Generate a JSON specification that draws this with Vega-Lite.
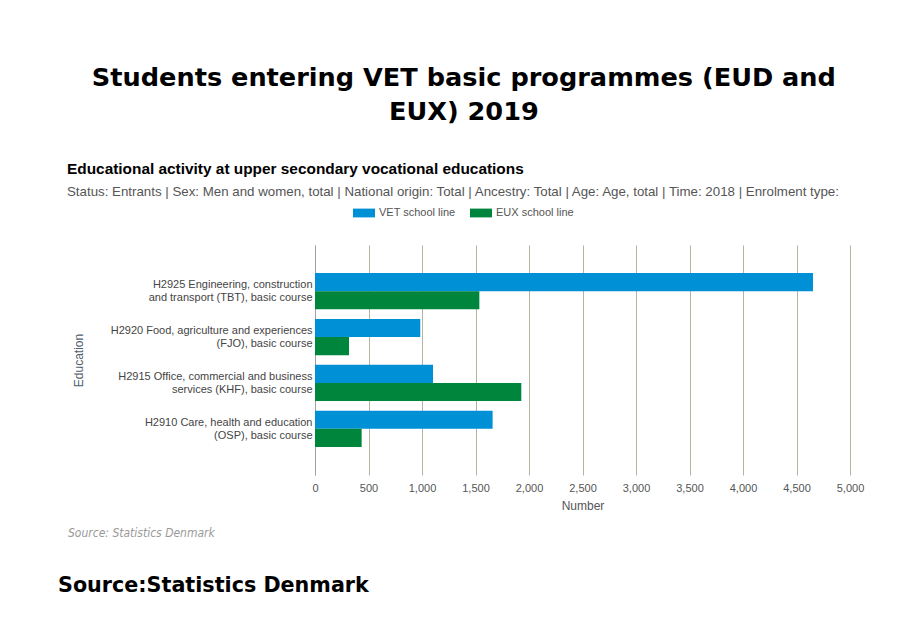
{
  "$schema": "https://vega.github.io/schema/vega-lite/v6.json",
  "background": "white",
  "padding": {"left": 58, "top": 65, "right": 20, "bottom": 20},
  "config": {
    "view": {"stroke": null},
    "concat": {"spacing": 0}
  },
  "title": {
    "text": ["Students entering VET basic programmes (EUD and", "EUX) 2019"],
    "font": "DejaVu Sans",
    "fontSize": 25.6,
    "fontWeight": "bold",
    "color": "#000000",
    "anchor": "middle",
    "lineHeight": 34,
    "offset": 37,
    "dx": 3
  },
  "vconcat": [
    {
      "title": {
        "text": "Source:Statistics Denmark",
        "orient": "bottom",
        "anchor": "start",
        "frame": "bounds",
        "font": "DejaVu Sans",
        "fontSize": 20.7,
        "fontWeight": "bold",
        "color": "#000000",
        "offset": 37,
        "dx": -9
      },
      "vconcat": [
        {
          "title": {
            "text": "Source: Statistics Denmark",
            "orient": "bottom",
            "anchor": "start",
            "frame": "bounds",
            "font": "DejaVu Sans Condensed",
            "fontSize": 12,
            "fontStyle": "italic",
            "fontWeight": "normal",
            "color": "#999999",
            "offset": 17,
            "dx": 1
          },
          "vconcat": [
            {
              "width": 535,
              "height": 230,
              "title": {
                "text": "Educational activity at upper secondary vocational educations",
                "anchor": "start",
                "frame": "bounds",
                "font": "Liberation Sans",
                "fontSize": 15.4,
                "fontWeight": "bold",
                "color": "#000000",
                "offset": 47,
                "dx": -5,
                "subtitle": "Status: Entrants | Sex: Men and women, total | National origin: Total | Ancestry: Total | Age: Age, total | Time: 2018 | Enrolment type:",
                "subtitleFont": "Liberation Sans",
                "subtitleFontSize": 13.3,
                "subtitleColor": "#555555",
                "subtitlePadding": 7
              },
              "data": {
                "values": [
                  {"education": "H2925 Engineering, construction and transport (TBT), basic course", "line": "VET school line", "number": 4654},
                  {"education": "H2925 Engineering, construction and transport (TBT), basic course", "line": "EUX school line", "number": 1536},
                  {"education": "H2920 Food, agriculture and experiences (FJO), basic course", "line": "VET school line", "number": 984},
                  {"education": "H2920 Food, agriculture and experiences (FJO), basic course", "line": "EUX school line", "number": 318},
                  {"education": "H2915 Office, commercial and business services (KHF), basic course", "line": "VET school line", "number": 1103},
                  {"education": "H2915 Office, commercial and business services (KHF), basic course", "line": "EUX school line", "number": 1928},
                  {"education": "H2910 Care, health and education (OSP), basic course", "line": "VET school line", "number": 1660},
                  {"education": "H2910 Care, health and education (OSP), basic course", "line": "EUX school line", "number": 436}
                ]
              },
              "mark": {"type": "bar"},
              "encoding": {
                "y": {
                  "field": "education",
                  "type": "nominal",
                  "sort": "descending",
                  "scale": {"paddingInner": 0.21, "paddingOuter": 0.61},
                  "axis": {
                    "title": "Education",
                    "titleFont": "Liberation Sans",
                    "titleFontSize": 12,
                    "titleFontWeight": "normal",
                    "titleColor": "#4f5d6b",
                    "titlePadding": 30,
                    "labelFont": "Liberation Sans",
                    "labelFontSize": 11,
                    "labelColor": "#444444",
                    "labelLineHeight": 13,
                    "labelLimit": 300,
                    "labelPadding": 3,
                    "labelOffset": -6,
                    "labelExpr": "split(replace(datum.label, regexp('(construction|experiences|business|education) '), '$1\\n'), '\\n')",
                    "ticks": false,
                    "domain": true,
                    "domainColor": "#a0a0a0",
                    "grid": false
                  }
                },
                "yOffset": {
                  "field": "line",
                  "type": "nominal",
                  "sort": ["VET school line", "EUX school line"],
                  "scale": {"paddingInner": 0, "paddingOuter": 0}
                },
                "x": {
                  "field": "number",
                  "type": "quantitative",
                  "scale": {"domain": [0, 5000], "nice": false},
                  "axis": {
                    "title": "Number",
                    "titleFont": "Liberation Sans",
                    "titleFontSize": 12,
                    "titleFontWeight": "normal",
                    "titleColor": "#555555",
                    "titlePadding": 7,
                    "values": [0, 500, 1000, 1500, 2000, 2500, 3000, 3500, 4000, 4500, 5000],
                    "format": ",d",
                    "labelFont": "Liberation Sans",
                    "labelFontSize": 11,
                    "labelColor": "#555555",
                    "labelPadding": 7,
                    "labelFlush": false,
                    "ticks": false,
                    "domain": false,
                    "grid": true,
                    "gridColor": "#b8b4a4",
                    "gridOpacity": 1
                  }
                },
                "color": {
                  "field": "line",
                  "type": "nominal",
                  "sort": ["VET school line", "EUX school line"],
                  "scale": {"domain": ["VET school line", "EUX school line"], "range": ["#0090d6", "#00853c"]},
                  "legend": {
                    "title": null,
                    "orient": "none",
                    "direction": "horizontal",
                    "legendX": 38,
                    "legendY": -43,
                    "symbolType": "M-1,-0.4H1V0.4H-1Z",
                    "symbolSize": 484,
                    "symbolStrokeWidth": 0,
                    "symbolOpacity": 1,
                    "labelFont": "Liberation Sans",
                    "labelFontSize": 11,
                    "labelColor": "#555555",
                    "labelOffset": 4,
                    "columnPadding": 14
                  }
                }
              }
            }
          ]
        }
      ]
    }
  ]
}
